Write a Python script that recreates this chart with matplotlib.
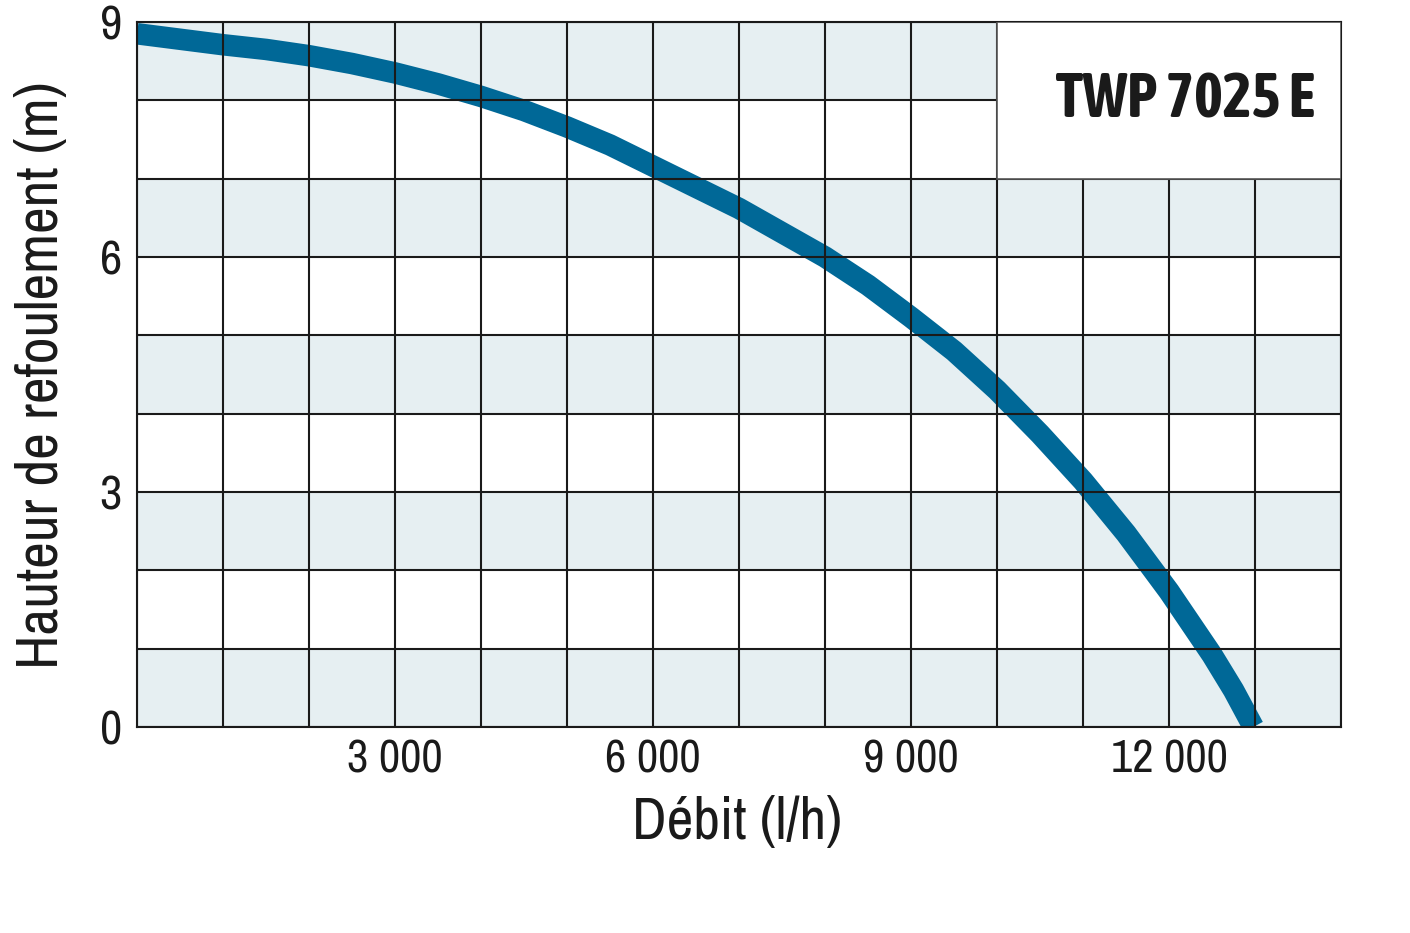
import matplotlib.pyplot as plt
from matplotlib import font_manager
import matplotlib.patheffects as pe
from matplotlib.patches import Rectangle

# Pump curve
flow = [0, 500, 1000, 1500, 2000, 2500, 3000, 3500, 4000, 4500, 5000,
        5500, 6000, 6500, 7000, 7500, 8000, 8500, 9000, 9500, 10000,
        10500, 11000, 11500, 12000, 12500, 12750, 12980]
head = [8.85, 8.78, 8.71, 8.65, 8.57, 8.47, 8.35, 8.21, 8.05, 7.87, 7.66,
        7.43, 7.16, 6.89, 6.62, 6.31, 6.0, 5.64, 5.23, 4.80, 4.30,
        3.74, 3.14, 2.47, 1.73, 0.92, 0.47, 0.0]

x_ticks = [3000, 6000, 9000, 12000]
x_tick_labels = ['3 000', '6 000', '9 000', '12 000']
y_ticks = [0, 3, 6, 9]
y_tick_labels = ['0', '3', '6', '9']
model = 'TWP 7025 E'

# look for a narrow sans font, the reference uses a condensed face
fonts = font_manager.fontManager.ttflist
narrow = sorted({f.name for f in fonts if 'Narrow' in f.name or 'Condensed' in f.name})
narrow_bold = sorted({f.name for f in fonts
                      if ('Narrow' in f.name or 'Condensed' in f.name)
                      and isinstance(f.weight, int) and f.weight >= 600})
if narrow:
    font = [narrow[0], 'DejaVu Sans']
    scale = 1.0
else:
    font = ['Liberation Sans', 'DejaVu Sans']
    scale = 0.82
plt.rcParams['font.family'] = font

fig = plt.figure(figsize=(14.1, 9.33), dpi=100)
ax = fig.add_axes([0.0972, 0.2208, 0.8539, 0.7556])

ax.set_xlim(0, 14000)
ax.set_ylim(0, 9)

# light blue bands on every other row
for y0 in range(0, 9, 2):
    ax.axhspan(y0, y0 + 1, color='#e6eff2', lw=0, zorder=0)

ax.plot(flow, head, color='#006897', lw=15.5, solid_capstyle='butt',
        solid_joinstyle='round', zorder=2)

ax.set_xticks(x_ticks)
ax.set_xticklabels(x_tick_labels)
ax.set_xticks(range(0, 14001, 1000), minor=True)
ax.set_yticks(y_ticks)
ax.set_yticklabels(y_tick_labels)
ax.set_yticks(range(0, 10), minor=True)
ax.tick_params(which='both', length=0)
ax.tick_params(axis='x', labelsize=33.5 * scale, pad=8, colors='#1a1a1a')
ax.tick_params(axis='y', labelsize=35 * scale, pad=11, colors='#1a1a1a')

ax.set_axisbelow(False)
ax.grid(which='both', color='#1a1a1a', lw=1.5)
for s in ax.spines.values():
    s.set_color('#1a1a1a')
    s.set_linewidth(1.5)

# model name box in the top right corner
ax.add_patch(Rectangle((10000, 7), 4000, 2, facecolor='white',
                       edgecolor='#555555', lw=1.2, zorder=3))
if narrow_bold:
    ax.text(12185, 8.0, model, fontsize=44 * scale, fontweight='bold',
            family=[narrow_bold[0], 'DejaVu Sans'],
            ha='center', va='center', color='#1a1a1a', zorder=4)
else:
    ax.text(12180, 8.0, model, fontsize=40 * scale,
            ha='center', va='center', color='#1a1a1a', zorder=4,
            path_effects=[pe.withStroke(linewidth=2.6, foreground='#1a1a1a')])

ax.set_xlabel('Débit (l/h)', fontsize=42 * scale, va='center', color='#1a1a1a')
ax.xaxis.set_label_coords(0.498, -0.135)
ax.set_ylabel('Hauteur de refoulement (m)', fontsize=42 * scale,
              va='center', color='#1a1a1a')
ax.yaxis.set_label_coords(-0.079, 0.499)

fig.savefig('out.png', dpi=100, facecolor='white')
